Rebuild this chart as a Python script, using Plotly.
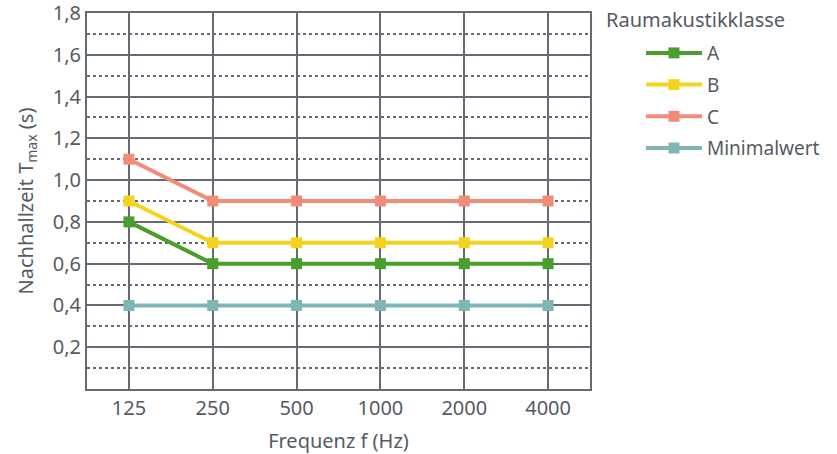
import plotly.graph_objects as go

categories = ["125", "250", "500", "1000", "2000", "4000"]
series_names = ["A", "B", "C", "Minimalwert"]
values_A = [0.8, 0.6, 0.6, 0.6, 0.6, 0.6]
values_B = [0.9, 0.7, 0.7, 0.7, 0.7, 0.7]
values_C = [1.1, 0.9, 0.9, 0.9, 0.9, 0.9]
values_min = [0.4, 0.4, 0.4, 0.4, 0.4, 0.4]
colors = ["#4a9e2b", "#f5d31c", "#f28c78", "#7fb5b5"]
y_ticks = [0.2, 0.4, 0.6, 0.8, 1.0, 1.2, 1.4, 1.6, 1.8]

fig = go.Figure()
for name, vals, col in zip(series_names, [values_A, values_B, values_C, values_min], colors):
    fig.add_trace(go.Scatter(
        x=categories, y=vals, name=name, mode="lines+markers",
        legendgroup=name,
        line=dict(color=col, width=4),
        marker=dict(symbol="square", size=11, color=col),
    ))

txt = "#555b63"
grid = "#656b74"
fs = 20
fig.update_layout(
    width=837, height=454,
    margin=dict(l=87, r=247, t=13, b=65),
    plot_bgcolor="white", paper_bgcolor="white",
    separators=",.",
    font=dict(family="Noto Sans, Roboto, sans-serif", size=fs, color=txt),
    xaxis=dict(
        type="category", range=[-0.5, 5.5], automargin=False,
        showgrid=True, gridcolor=grid, gridwidth=1.5,
        showline=True, linecolor=grid, linewidth=2, mirror=True,
        ticks="", tickfont=dict(size=fs, color=txt),
        title=dict(text="Frequenz f (Hz)", font=dict(size=fs, color=txt), standoff=24),
    ),
    yaxis=dict(
        range=[0, 1.8], tickvals=y_ticks, tickformat=".1f", automargin=False,
        ticklabeloverflow="allow",
        showgrid=True, gridcolor=grid, gridwidth=1.5,
        showline=True, linecolor=grid, linewidth=2, mirror=True,
        ticks="", tickfont=dict(size=fs, color=txt),
        zeroline=False,
        minor=dict(dtick=0.2, tick0=0.1, showgrid=True, gridcolor=grid, griddash="dot", gridwidth=1.5),
        title=dict(text="Nachhallzeit T<sub>max</sub> (s)", font=dict(size=fs, color=txt), standoff=14),
    ),
    legend=dict(
        x=0.99, y=0.944, xanchor="left", yanchor="top",
        bgcolor="rgba(0,0,0,0)",
        font=dict(size=19, color=txt),
        indentation=56, tracegroupgap=4, itemwidth=56,
    ),
    annotations=[dict(
        text="Raumakustikklasse", xref="paper", yref="paper",
        x=1.028, y=1.0 + 9 / 376, xanchor="left", yanchor="top",
        showarrow=False, font=dict(size=fs, color=txt),
    )],
)

fig.write_html("out.html", config={"displayModeBar": False},
               post_script="document.body.style.margin='0';")
